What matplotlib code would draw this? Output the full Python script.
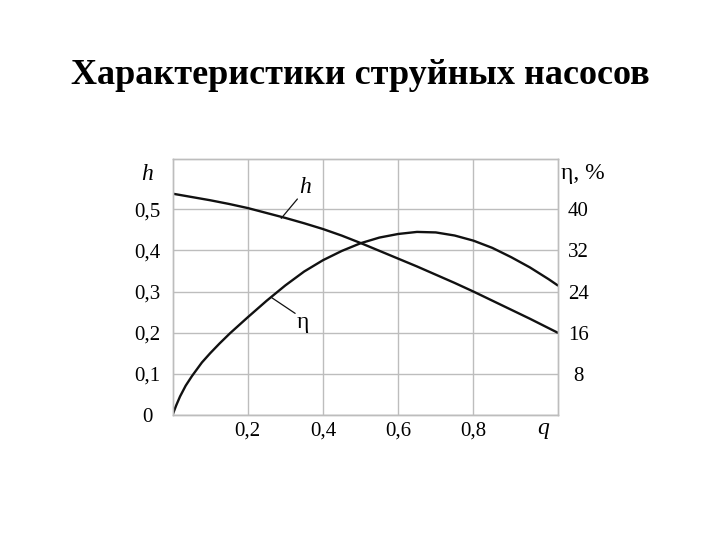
import matplotlib.pyplot as plt

plt.rcParams['font.family'] = ['Liberation Serif', 'DejaVu Serif']

# relative flow q and head h
q_h = [0.0, 0.05, 0.1, 0.15, 0.2, 0.25, 0.3, 0.35, 0.4, 0.45, 0.5, 0.55,
       0.6, 0.65, 0.7, 0.75, 0.8, 0.85, 0.9, 0.95, 1.024]
h = [0.538, 0.530, 0.522, 0.513, 0.503, 0.491, 0.479, 0.466, 0.452, 0.436,
     0.418, 0.399, 0.380, 0.361, 0.341, 0.321, 0.300, 0.278, 0.256, 0.234, 0.200]

# efficiency eta, %
q_eta = [0.0, 0.01, 0.02, 0.035, 0.052, 0.078, 0.1, 0.125, 0.153, 0.2, 0.25,
         0.3, 0.35, 0.4, 0.45, 0.5, 0.55, 0.6, 0.65, 0.7, 0.75, 0.8, 0.85,
         0.9, 0.95, 1.0, 1.024]
eta = [0.0, 1.9, 3.6, 5.7, 7.6, 10.2, 12.0, 13.9, 15.9, 19.0, 22.2,
       25.2, 27.9, 30.1, 31.9, 33.4, 34.5, 35.2, 35.6, 35.5, 34.9, 33.9, 32.5,
       30.7, 28.7, 26.4, 25.2]

x_ticks = [0.2, 0.4, 0.6, 0.8]
x_labels = ['0,2', '0,4', '0,6', '0,8']
h_ticks = [0.0, 0.1, 0.2, 0.3, 0.4, 0.5]
h_labels = ['0', '0,1', '0,2', '0,3', '0,4', '0,5']
eta_ticks = [8, 16, 24, 32, 40]
eta_labels = ['8', '16', '24', '32', '40']

grid_c = '#bdbdbd'
line_c = '#111111'

fig = plt.figure(figsize=(7.2, 5.4), dpi=100)
ax = fig.add_axes([0.2396, 0.2315, 0.5350, 0.4735])
ax2 = ax.twinx()

h_top = 0.6215
ax.set_xlim(0, 1.024)
ax.set_ylim(0, h_top)
ax2.set_ylim(0, h_top * 80)

ax.plot(q_h, h, color=line_c, lw=1.7, solid_capstyle='round', solid_joinstyle='round')
ax2.plot(q_eta, eta, color=line_c, lw=1.7, solid_capstyle='round', solid_joinstyle='round')

ax.set_xticks(x_ticks)
ax.set_xticklabels(x_labels)
ax.set_yticks(h_ticks)
ax.set_yticklabels(h_labels, ha='center')
ax2.set_yticks(eta_ticks)
ax2.set_yticklabels(eta_labels, ha='center')

ax.tick_params(axis='x', length=0, pad=5, labelsize=15)
ax.tick_params(axis='y', length=0, pad=18, labelsize=15)
ax2.tick_params(axis='y', length=0, pad=15, labelsize=15)

ax.grid(True, color=grid_c, lw=1.0)
ax.set_axisbelow(True)
for a in (ax, ax2):
    for s in a.spines.values():
        s.set_color(grid_c)
        s.set_linewidth(1.0)

# leader lines and curve labels
ax.annotate('', xy=(0.289, 0.478), xytext=(0.332, 0.525),
            arrowprops=dict(arrowstyle='-', color=line_c, lw=0.9, shrinkA=0, shrinkB=0))
ax.text(0.352, 0.553, 'h', fontsize=17, style='italic', ha='center', va='center')
ax.annotate('', xy=(0.264, 0.285), xytext=(0.326, 0.247),
            arrowprops=dict(arrowstyle='-', color=line_c, lw=0.9, shrinkA=0, shrinkB=0))
ax.text(0.347, 0.226, 'η', fontsize=17, ha='center', va='center')

# axis names
ax.text(-0.065, 0.939, 'h', transform=ax.transAxes, fontsize=17,
        style='italic', ha='center', va='center')
ax.text(1.066, 0.946, 'η, %', transform=ax.transAxes, fontsize=17,
        ha='center', va='center')
ax.text(0.962, -0.051, 'q', transform=ax.transAxes, fontsize=17,
        style='italic', ha='center', va='center')

fig.text(0.5, 0.861, 'Характеристики струйных насосов', fontsize=26,
         fontweight='bold', ha='center', va='center')

fig.savefig('out.png', dpi=100)
